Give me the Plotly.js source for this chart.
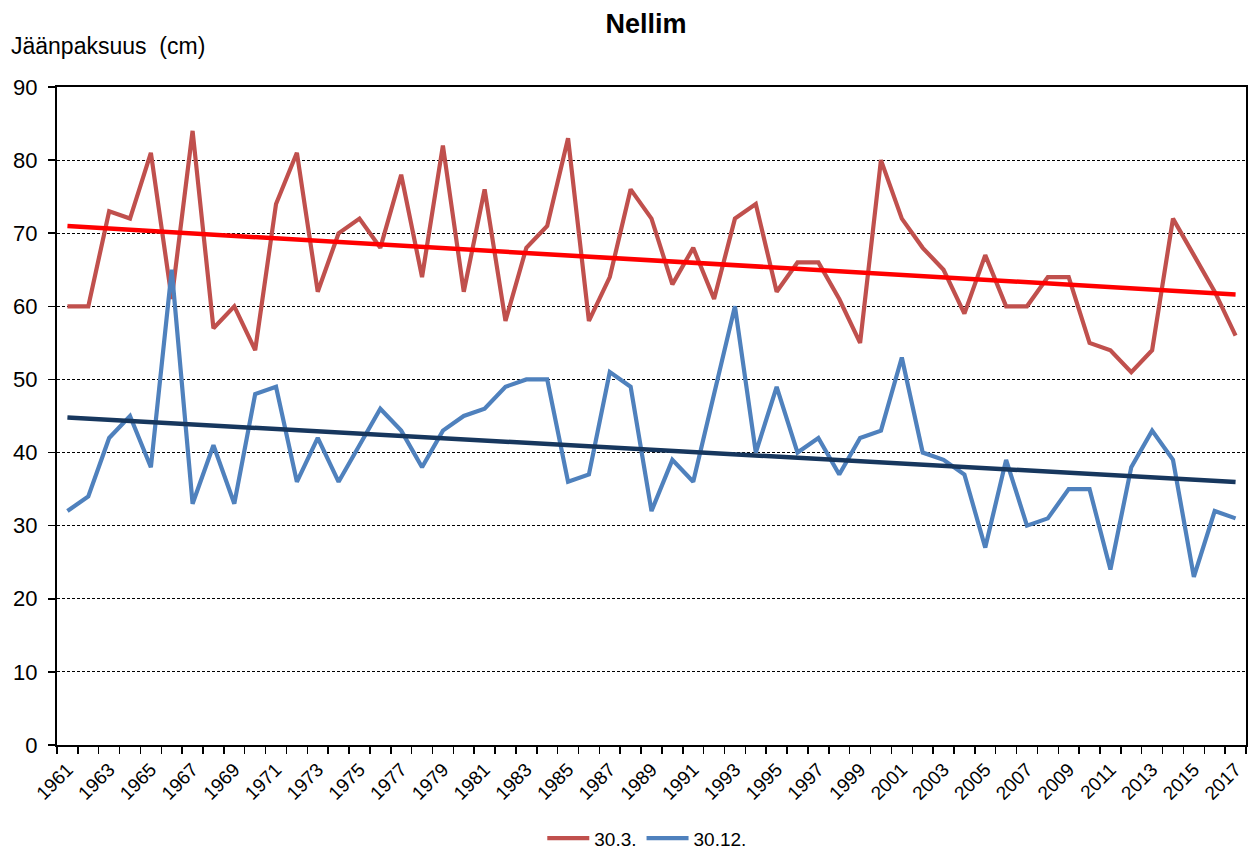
<!DOCTYPE html>
<html>
<head>
<meta charset="utf-8">
<script src="https://cdn.plot.ly/plotly-3.0.1.min.js"></script>
<style>html,body{margin:0;padding:0;background:#fff;}#chart{width:1252px;height:852px;}</style>
</head>
<body>
<div id="chart"></div>
<script>
const years = [];
for (let y = 1961; y <= 2017; y++) years.push(y);

const march30 = [60,60,73,72,81,61,84,57,60,54,
                 74,81,62,70,72,68,78,64,82,62,
                 76,58,68,71,83,58,64,76,72,63,
                 68,61,72,74,62,66,66,61,55,80,
                 72,68,65,59,67,60,60,64,64,55,
                 54,51,54,72,67,62,56];

const dec30 = [32,34,42,45,38,65,33,41,33,48,
               49,36,42,36,41,46,43,38,43,45,
               46,49,50,50,36,37,51,49,32,39,
               36,48,60,40,49,40,42,37,42,43,
               53,40,39,37,27,39,30,31,35,35,
               24,38,43,39,23,32,31];

const seriesNames = ['30.3.', '30.12.'];
const tickYears = years.filter(y => (y - 1961) % 2 === 0);
const tickLabels = tickYears.map(String);

function linFit(xs, ys) {
  const n = xs.length;
  let sx = 0, sy = 0, sxx = 0, sxy = 0;
  for (let i = 0; i < n; i++) { sx += xs[i]; sy += ys[i]; sxx += xs[i]*xs[i]; sxy += xs[i]*ys[i]; }
  const b = (n*sxy - sx*sy) / (n*sxx - sx*sx);
  const a = (sy - b*sx) / n;
  return xs.map(x => a + b*x);
}

const font = 'Liberation Sans, Arial, sans-serif';

const traces = [
  {x: years, y: march30, name: seriesNames[0], type: 'scatter', mode: 'lines',
   line: {color: '#C0504D', width: 4.2}},
  {x: years, y: dec30, name: seriesNames[1], type: 'scatter', mode: 'lines',
   line: {color: '#4F81BD', width: 4.2}},
  {x: years, y: linFit(years, march30), type: 'scatter', mode: 'lines', showlegend: false,
   hoverinfo: 'skip', line: {color: '#FF0000', width: 4.5}},
  {x: years, y: linFit(years, dec30), type: 'scatter', mode: 'lines', showlegend: false,
   hoverinfo: 'skip', line: {color: '#17375E', width: 4.5}}
];

const layout = {
  width: 1252, height: 852,
  margin: {l: 57, r: 6, t: 87, b: 107, autoexpand: false},
  paper_bgcolor: '#fff', plot_bgcolor: '#fff',
  font: {family: font, color: '#000'},
  title: {text: '<b>Nellim</b>', x: 0.516, xanchor: 'center', y: 0.972, yanchor: 'middle',
          font: {family: font, size: 27, color: '#000'}},
  xaxis: {
    range: [1960.5, 2017.5], tickmode: 'array', tickvals: tickYears, ticktext: tickLabels,
    tickangle: -45, ticks: '', tickfont: {family: font, size: 19, color: '#000'},
    ticklabelstandoff: 4,
    showgrid: false, zeroline: false, showline: true, linecolor: '#000', linewidth: 2, mirror: true,
    automargin: false,
    minor: {ticks: 'outside', tick0: 1960.5, dtick: 1, ticklen: 7, tickcolor: '#000', tickwidth: 1.5, showgrid: false}
  },
  yaxis: {
    range: [0, 90], dtick: 10, tick0: 0, ticks: 'outside', ticklen: 7, tickcolor: '#000', tickwidth: 1.5,
    tickfont: {family: font, size: 22, color: '#000'}, ticklabelstandoff: 6, automargin: false,
    showgrid: true, gridcolor: '#000', gridwidth: 1, griddash: '3px,2px',
    zeroline: false, showline: true, linecolor: '#000', linewidth: 2, mirror: true
  },
  legend: {orientation: 'h', x: 0.517, xanchor: 'center', xref: 'container', yref: 'container', y: 0.016, yanchor: 'middle',
           font: {family: font, size: 19, color: '#000'}, itemwidth: 42, tracegroupgap: 0},
  annotations: [{
    text: 'Jäänpaksuus  (cm)', xref: 'paper', yref: 'paper', x: -0.04, y: 1.063,
    xanchor: 'left', yanchor: 'middle', showarrow: false,
    font: {family: font, size: 23, color: '#000'}
  }],
  showlegend: true
};

Plotly.newPlot('chart', traces, layout, {displayModeBar: false, staticPlot: true});
</script>
</body>
</html>
